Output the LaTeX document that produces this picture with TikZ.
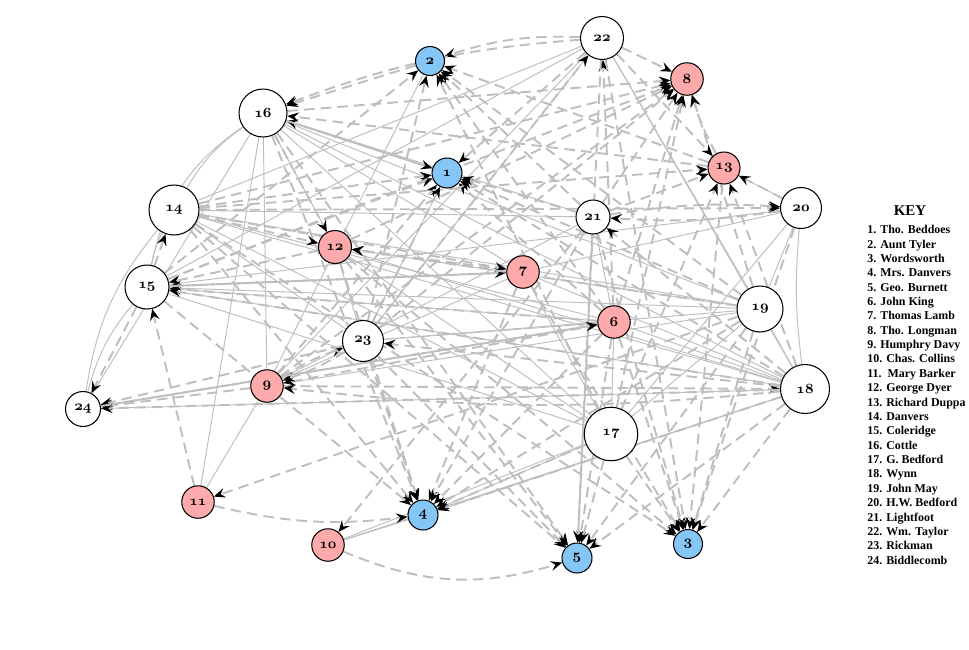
\documentclass[tikz,border=0pt]{standalone}
\usepackage{fontspec}
\usepackage{xcolor}
\usepackage{tikz}
\usetikzlibrary{arrows.meta}
\newfontfamily\keyfont{Liberation Serif}
\definecolor{edgegray}{RGB}{190,190,190}
\definecolor{recipblue}{RGB}{132,199,246}
\definecolor{recippink}{RGB}{255,170,170}
\newcommand{\pnum}[1]{{\fontencoding{OML}\fontfamily{cmm}\fontseries{b}\fontshape{it}\fontsize{8}{8}\selectfont #1}}
\pgfdeclarelayer{bg}
\pgfsetlayers{bg,main}

\begin{document}
\begin{tikzpicture}[x=0.02cm , y=-0.02cm ,
   person/.style={circle , draw , line width=0.6pt , inner sep=0pt , fill=white} ,
   bluep/.style={person , fill=recipblue} ,
   pinkp/.style={person , fill=recippink} ,
   letter/.style={draw=edgegray , line width=1.1pt , dash pattern=on 6pt off 3.5pt ,
      -{Stealth[length=6.5pt , width=5.5pt , inset=2.4pt , black]}} ,
   link/.style={draw=edgegray , line width=0.55pt}]
   \useasboundingbox (0 , 0) rectangle (969 , 649);

   % recipients
   \node [bluep , minimum size=0.6cm] (beddoes) at (447 , 173) {\pnum{1}};
   \node [bluep , minimum size=0.58cm] (tyler) at (430 , 61) {\pnum{2}};
   \node [bluep , minimum size=0.58cm] (wordsworth) at (688 , 544) {\pnum{3}};
   \node [bluep , minimum size=0.6cm] (mrsdanvers) at (423 , 515) {\pnum{4}};
   \node [bluep , minimum size=0.6cm] (burnett) at (577 , 558) {\pnum{5}};
   \node [pinkp , minimum size=0.65cm] (king) at (614 , 322) {\pnum{6}};
   \node [pinkp , minimum size=0.65cm] (lamb) at (523 , 272) {\pnum{7}};
   \node [pinkp , minimum size=0.65cm] (longman) at (687 , 79) {\pnum{8}};
   \node [pinkp , minimum size=0.65cm] (davy) at (267 , 386) {\pnum{9}};
   \node [pinkp , minimum size=0.65cm] (collins) at (328 , 545) {\pnum{10}};
   \node [pinkp , minimum size=0.65cm] (barker) at (198 , 502) {\pnum{11}};
   \node [pinkp , minimum size=0.66cm] (dyer) at (335 , 247) {\pnum{12}};
   \node [pinkp , minimum size=0.64cm] (duppa) at (724 , 168) {\pnum{13}};
   % others
   \node [person , minimum size=1.0cm] (danvers) at (174 , 210) {\pnum{14}};
   \node [person , minimum size=0.88cm] (coleridge) at (147 , 287) {\pnum{15}};
   \node [person , minimum size=0.96cm] (cottle) at (263 , 113) {\pnum{16}};
   \node [person , minimum size=1.07cm] (gbedford) at (611 , 434) {\pnum{17}};
   \node [person , minimum size=0.98cm] (wynn) at (805 , 389) {\pnum{18}};
   \node [person , minimum size=0.92cm] (may) at (760 , 309) {\pnum{19}};
   \node [person , minimum size=0.82cm] (hwbedford) at (801 , 208) {\pnum{20}};
   \node [person , minimum size=0.68cm] (lightfoot) at (593 , 217) {\pnum{21}};
   \node [person , minimum size=0.86cm] (taylor) at (602 , 38) {\pnum{22}};
   \node [person , minimum size=0.82cm] (rickman) at (363 , 341) {\pnum{23}};
   \node [person , minimum size=0.7cm] (biddlecomb) at (83 , 409) {\pnum{24}};

   \begin{pgfonlayer}{bg}
   % acquaintance
   \path [link] (cottle) edge [bend right=22] (coleridge) edge [bend right=12] (danvers) edge (biddlecomb)
      edge (davy) edge (dyer) edge (barker) edge (beddoes) edge (lightfoot) edge (may) edge (wynn)
      edge (lamb) edge (gbedford) ;
   \path [link] (danvers) edge [bend right=8] (coleridge) edge [bend right=15] (biddlecomb) edge (king)
      edge (may) edge (wynn) edge (taylor) edge (gbedford) edge (lightfoot) edge (rickman) ;
   \path [link] (coleridge) edge [bend right=12] (biddlecomb) edge (wynn) edge (gbedford) edge (may) edge (taylor)
      edge (king) edge (hwbedford) ;
   \path [link] (taylor) edge (davy) edge (may) edge (wynn) edge (rickman) ;
   \path [link] (tyler) edge (davy) ;
   \path [link] (wynn) edge [bend left=6] (hwbedford) edge (may) edge (dyer) edge (collins) edge (mrsdanvers)
      edge (lamb) edge (king) edge (biddlecomb) ;
   \path [link] (gbedford) edge (king) edge (lamb) edge (hwbedford) edge (may) edge (collins)
      edge (mrsdanvers) edge (dyer) ;
   \path [link] (may) edge (dyer) edge (davy) edge (rickman) edge (hwbedford) ;
   \path [link] (hwbedford) edge (duppa) edge (lamb) ;
   \path [link] (lightfoot) edge (king) edge (davy) ;
   \path [link] (rickman) edge (dyer) edge (beddoes) edge (king) ;
   \path [link] (barker) edge (davy) ;
   \path [link] (collins) edge (mrsdanvers) ;
   \path [link] (lamb) edge (davy) ;
   % letters
   \path [letter] (beddoes) edge (cottle) ;
   \path [letter] (tyler) edge (cottle) ;
   \path [letter] (king) edge (beddoes) edge (tyler) edge (wordsworth) edge (mrsdanvers) edge (burnett)
      edge (longman) edge (davy) edge (coleridge) edge (taylor) edge (biddlecomb) ;
   \path [letter] (lamb) edge (wordsworth) edge (mrsdanvers) edge (dyer) edge (coleridge) ;
   \path [letter] (davy) edge (beddoes) edge (longman) edge (wynn) edge [bend left=6] (rickman) edge (biddlecomb) ;
   \path [letter] (collins) edge [bend right=20] (burnett) ;
   \path [letter] (barker) edge [bend right=10] (mrsdanvers) edge (coleridge) ;
   \path [letter] (dyer) edge (wordsworth) edge (burnett) edge (longman) edge (coleridge) edge (mrsdanvers) ;
   \path [letter] (duppa) edge (tyler) edge [bend left=6] (longman) edge (cottle) edge (wordsworth) ;
   \path [letter] (danvers) edge (beddoes) edge (wordsworth) edge (mrsdanvers) edge (burnett) edge (longman)
      edge (dyer) edge (duppa) edge (hwbedford) edge (lamb) ;
   \path [letter] (coleridge) edge (beddoes) edge (tyler) edge (mrsdanvers) edge (lamb) edge (longman)
      edge (danvers) edge (biddlecomb) ;
   \path [letter] (cottle) edge (beddoes) edge (mrsdanvers) edge (burnett) edge (longman) edge (dyer) ;
   \path [letter] (gbedford) edge (tyler) edge (wordsworth) edge (mrsdanvers) edge (duppa) edge (burnett)
      edge (longman) ;
   \path [letter] (wynn) edge (beddoes) edge (wordsworth) edge (mrsdanvers) edge [bend left=6] (davy) edge (duppa)
      edge (coleridge) edge (lightfoot) edge (rickman) edge (biddlecomb) edge (burnett) ;
   \path [letter] (may) edge (beddoes) edge (tyler) edge (wordsworth) edge (mrsdanvers) edge (burnett)
      edge (barker) edge (dyer) edge (longman) ;
   \path [letter] (hwbedford) edge (wordsworth) edge (duppa) edge [bend left=6] (lightfoot) ;
   \path [letter] (lightfoot) edge (beddoes) edge (tyler) edge (wordsworth) edge (mrsdanvers) edge (longman)
      edge (collins) edge (duppa) edge [bend left=6] (hwbedford) edge (burnett) ;
   \path [letter] (taylor) edge (beddoes) edge [bend right=10] (tyler) edge (burnett) edge (longman)
      edge (duppa) edge [bend right=8] (cottle) edge (wordsworth) ;
   \path [letter] (rickman) edge (beddoes) edge (tyler) edge (longman) edge [bend left=6] (davy)
      edge (taylor) edge (biddlecomb) edge (burnett) edge (mrsdanvers) ;
   \path [letter] (biddlecomb) edge (king) ;
   \end{pgfonlayer}

   % key
   \node [font=\keyfont\bfseries\fontsize{8.5}{9}\selectfont] (keytitle) at (910 , 211) {KEY};
   \node [anchor=north west , align=left , inner sep=0pt ,
      font=\keyfont\bfseries\fontsize{6.8}{8.18}\selectfont] (keylist) at (867 , 225)
      {1. Tho. Beddoes\\2. Aunt Tyler\\3. Wordsworth\\4. Mrs. Danvers\\5. Geo. Burnett\\6. John King\\
       7. Thomas Lamb\\8. Tho. Longman\\9. Humphry Davy\\10. Chas. Collins\\11.\ \ Mary Barker\\
       12. George Dyer\\13. Richard Duppa\\14. Danvers\\15. Coleridge\\16. Cottle\\17. G. Bedford\\
       18. Wynn\\19. John May\\20. H.W. Bedford\\21. Lightfoot\\22. Wm. Taylor\\23. Rickman\\24. Biddlecomb};
\end{tikzpicture}
\end{document}
